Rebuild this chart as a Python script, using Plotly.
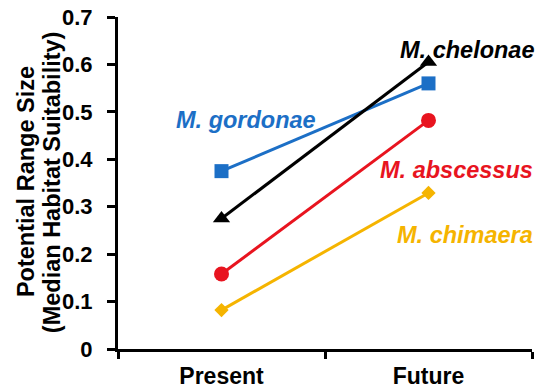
import plotly.graph_objects as go

periods = ["Present", "Future"]
species = ["M. gordonae", "M. chelonae", "M. abscessus", "M. chimaera"]
gordonae = [0.375, 0.560]
chelonae = [0.275, 0.605]
abscessus = [0.158, 0.482]
chimaera = [0.082, 0.329]
y_ticks = [0, 0.1, 0.2, 0.3, 0.4, 0.5, 0.6, 0.7]
y_title = ["Potential Range Size", "(Median Habitat Suitability)"]

series = [
    (gordonae, "#1c6fc6", "square", 14),
    (chelonae, "#000000", "triangle-up", 15),
    (abscessus, "#e8141f", "circle", 15),
    (chimaera, "#f5b400", "diamond", 11),
]

FONT = "Liberation Sans, Arial, sans-serif"

fig = go.Figure()
for name, (vals, color, symbol, size) in zip(species, series):
    fig.add_trace(go.Scatter(
        x=periods, y=vals, mode="lines+markers", name=name,
        line=dict(color=color, width=3),
        marker=dict(symbol=symbol, size=size, color=color),
        showlegend=False,
    ))

# species labels next to their lines
labels = [
    ("M. gordonae", 0.309, 0.483, "center", "#1c6fc6"),
    ("M. chelonae", 1.012, 0.631, "right", "#000000"),
    ("M. abscessus", 1.007, 0.378, "right", "#e8141f"),
    ("M. chimaera", 1.007, 0.240, "right", "#f5b400"),
]
for text, xp, yv, anchor, color in labels:
    fig.add_annotation(
        text=f"<b><i>{text}</i></b>", xref="paper", yref="y", x=xp, y=yv,
        xanchor=anchor, yanchor="middle", showarrow=False,
        font=dict(color=color, family=FONT, size=23.5),
    )

# two-line y-axis title, set tighter than the default line spacing
for line, xp in zip(y_title, [-0.222, -0.159]):
    fig.add_annotation(
        text=f"<b>{line}</b>", xref="paper", yref="paper", x=xp, y=0.503,
        xanchor="center", yanchor="middle", textangle=-90, showarrow=False,
        font=dict(color="black", family=FONT, size=23.5),
    )

fig.update_layout(
    width=542, height=389,
    margin=dict(l=118, r=10, t=17, b=40, autoexpand=False),
    paper_bgcolor="white", plot_bgcolor="white",
    font=dict(family=FONT, color="black"),
)
fig.update_xaxes(
    type="category", range=[-0.5, 1.5], tickson="boundaries",
    automargin=False,
    showline=True, linecolor="black", linewidth=3,
    ticks="outside", ticklen=7, tickwidth=3, tickcolor="black",
    showgrid=False, zeroline=False,
    tickvals=periods, ticktext=[f"<b>{p}</b>" for p in periods],
    tickfont=dict(size=23),
    ticklabelstandoff=4,
)
fig.update_yaxes(
    range=[0, 0.7], automargin=False,
    showline=True, linecolor="black", linewidth=3,
    ticks="outside", ticklen=8, tickwidth=3, tickcolor="black",
    showgrid=False, zeroline=False,
    tickvals=y_ticks,
    ticktext=[f"<b>{v:g}</b>" for v in y_ticks],
    tickfont=dict(size=22),
    ticklabelstandoff=10,
)

fig.write_html("out.html")
